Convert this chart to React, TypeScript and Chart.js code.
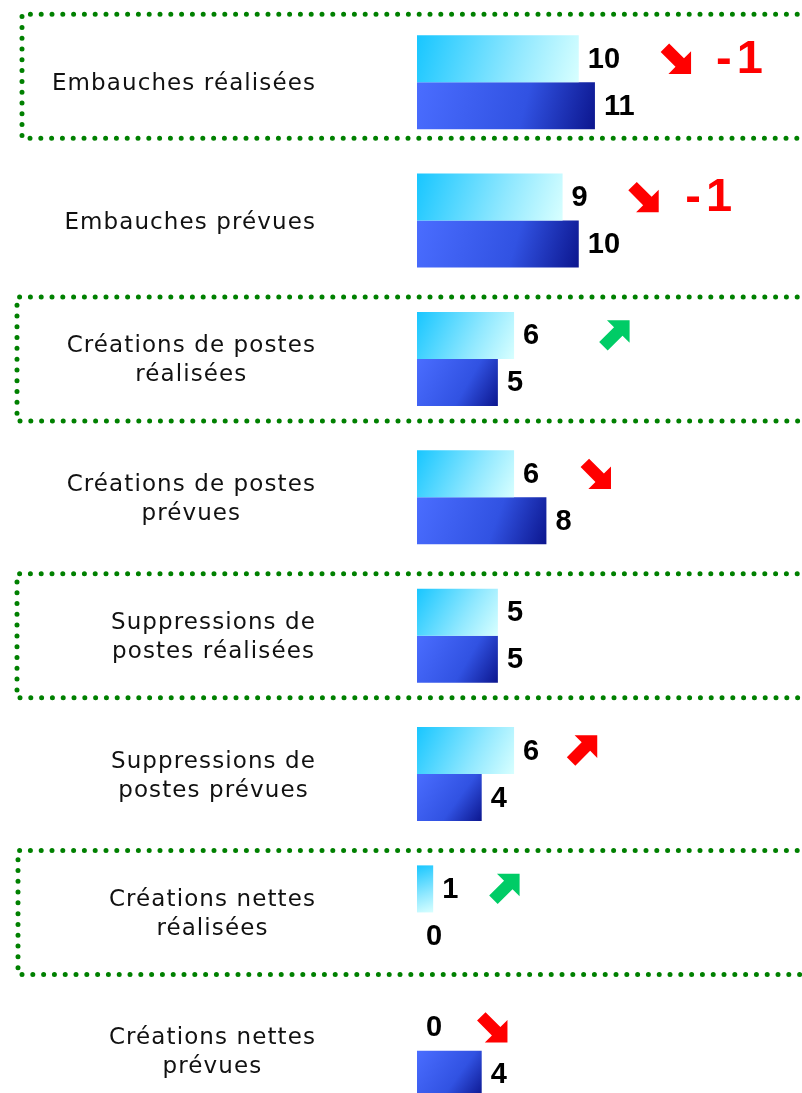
import React, { useEffect, useRef } from 'react';
import { Chart, registerables } from 'chart.js';

Chart.register(...registerables);

// ---- data ----
const CATEGORIES: string[][] = [
  ['Embauches réalisées'],
  ['Embauches prévues'],
  ['Créations de postes', 'réalisées'],
  ['Créations de postes', 'prévues'],
  ['Suppressions de', 'postes réalisées'],
  ['Suppressions de', 'postes prévues'],
  ['Créations nettes', 'réalisées'],
  ['Créations nettes', 'prévues'],
];
const SERIES_LIGHT = [10, 9, 6, 6, 5, 6, 1, 0];
const SERIES_DARK = [11, 10, 5, 8, 5, 4, 0, 4];

// trend annotations (direction, favourable?, position in value units)
const TREND_DIR: (string | null)[] = ['down', 'down', 'up', 'down', null, 'up', 'up', 'down'];
const TREND_GOOD: (boolean | null)[] = [false, false, true, false, null, false, true, false];
const TREND_AT: (number | null)[] = [16.0, 14.0, 12.2, 11.05, null, 10.2, 5.4, 4.65];
const DELTA_TEXT: (string | null)[] = ['-1', '-1', null, null, null, null, null, null];
const DELTA_AT: (number | null)[] = [19.9, 18.0, null, null, null, null, null, null];

const BOXED_CATEGORIES = [0, 2, 4, 6];

const X_MAX = 23.8;
const CAT_PCT = 0.68;

const LIGHT_STOPS = ['#18c6ff', '#90e8ff', '#d8ffff'];
const DARK_STOPS = ['#4a6dff', '#3152e2', '#0c168e'];

function barGradient(ctx: any, stops: string[]) {
  const chart = ctx.chart;
  const xs = chart.scales?.x;
  const ys = chart.scales?.y;
  if (ctx.type !== 'data' || !xs || !ys || !ys.height) return stops[1];
  const v = Number(ctx.raw) || 0;
  const left = xs.getPixelForValue(0);
  const right = Math.max(xs.getPixelForValue(v), left + 1);
  const center = ys.getPixelForValue(ctx.dataIndex);
  const half = (ys.height / CATEGORIES.length) * CAT_PCT / 2;
  const top = ctx.datasetIndex === 0 ? center - half : center;
  if (![left, right, top, half].every((n) => Number.isFinite(n))) return stops[1];
  const g = chart.ctx.createLinearGradient(left, top, right, top + half);
  g.addColorStop(0, stops[0]);
  g.addColorStop(0.6, stops[1]);
  g.addColorStop(1, stops[2]);
  return g;
}

function drawArrow(c: CanvasRenderingContext2D, cx: number, cy: number, up: boolean, color: string) {
  // block arrow pointing +x, then rotated 45 degrees
  const pts = [
    [-17, -6], [4, -6], [4, -16], [20, 0], [4, 16], [4, 6], [-17, 6],
  ];
  const off = 1.1;
  c.save();
  c.translate(cx + off, up ? cy - off : cy + off);
  c.rotate(up ? -Math.PI / 4 : Math.PI / 4);
  c.beginPath();
  pts.forEach(([x, y], i) => (i ? c.lineTo(x, y) : c.moveTo(x, y)));
  c.closePath();
  c.fillStyle = color;
  c.fill();
  c.restore();
}

const boxesPlugin = {
  id: 'boxes',
  beforeDatasetsDraw(chart: any) {
    const c = chart.ctx as CanvasRenderingContext2D;
    const ys = chart.scales.y;
    const band = ys.height / CATEGORIES.length;
    const lefts = [22, 17, 17, 18];
    const nudges = [-6, 0, 0, 0];
    c.save();
    c.strokeStyle = '#008000';
    c.lineWidth = 5;
    c.lineCap = 'round';
    c.setLineDash([0, 10.8]);
    BOXED_CATEGORIES.forEach((ci, k) => {
      const center = ys.getPixelForValue(ci) + nudges[k];
      const top = center - band * 0.448;
      const bottom = center + band * 0.448;
      const left = lefts[k];
      c.beginPath();
      c.moveTo(chart.width + 6, top);
      c.lineTo(left, top);
      c.lineTo(left, bottom);
      c.lineTo(chart.width + 6, bottom);
      c.stroke();
    });
    c.restore();
  },
};

const labelsPlugin = {
  id: 'catLabels',
  afterDraw(chart: any) {
    const c = chart.ctx as any;
    const ys = chart.scales.y;
    const right = chart.chartArea.left - 101;
    c.save();
    c.font = '23px "DejaVu Sans", Verdana, sans-serif';
    c.letterSpacing = '1.1px';
    c.fillStyle = '#111';
    c.textAlign = 'center';
    c.textBaseline = 'middle';
    const lh = 29;
    CATEGORIES.forEach((lines, i) => {
      const center = ys.getPixelForValue(i) + 2;
      const w = Math.max(...lines.map((l) => c.measureText(l).width));
      const x = right - w / 2;
      lines.forEach((line, j) => {
        const y = center + (j - (lines.length - 1) / 2) * lh;
        c.fillText(line, x, y);
      });
    });
    c.restore();
  },
};

const valuesPlugin = {
  id: 'values',
  afterDatasetsDraw(chart: any) {
    const c = chart.ctx as any;
    const xs = chart.scales.x;
    c.save();
    c.letterSpacing = '0px';
    c.font = 'bold 29px "Liberation Sans", Arial, sans-serif';
    c.fillStyle = '#000';
    c.textAlign = 'left';
    c.textBaseline = 'middle';
    chart.data.datasets.forEach((ds: any, di: number) => {
      const meta = chart.getDatasetMeta(di);
      meta.data.forEach((el: any, i: number) => {
        c.fillText(String(ds.data[i]), el.x + 9, el.y + 1);
      });
    });
    const light = chart.getDatasetMeta(0);
    CATEGORIES.forEach((_, i) => {
      const y = light.data[i].y;
      const dir = TREND_DIR[i];
      const at = TREND_AT[i];
      if (dir && at != null) {
        const color = TREND_GOOD[i] ? '#00cc66' : '#ff0000';
        drawArrow(c, xs.getPixelForValue(at), y, dir === 'up', color);
      }
      const dt = DELTA_TEXT[i];
      const da = DELTA_AT[i];
      if (dt && da != null) {
        c.save();
        c.font = 'bold 47px "Liberation Sans", Arial, sans-serif';
        c.letterSpacing = '5px';
        c.fillStyle = '#ff0000';
        c.textAlign = 'center';
        c.textBaseline = 'middle';
        c.fillText(dt, xs.getPixelForValue(da) + 3, y + 1);
        c.restore();
      }
    });
    c.restore();
  },
};

export default function App() {
  const ref = useRef<HTMLCanvasElement | null>(null);
  useEffect(() => {
    if (!ref.current) return;
    const chart = new Chart(ref.current, {
      type: 'bar',
      data: {
        labels: CATEGORIES,
        datasets: [
          {
            label: 'Série 1',
            data: SERIES_LIGHT,
            backgroundColor: (ctx: any) => barGradient(ctx, LIGHT_STOPS),
            borderWidth: 0,
            categoryPercentage: CAT_PCT,
            barPercentage: 1,
          },
          {
            label: 'Série 2',
            data: SERIES_DARK,
            backgroundColor: (ctx: any) => barGradient(ctx, DARK_STOPS),
            borderWidth: 0,
            categoryPercentage: CAT_PCT,
            barPercentage: 1,
          },
        ],
      },
      options: {
        indexAxis: 'y',
        animation: false,
        responsive: true,
        maintainAspectRatio: false,
        events: [],
        layout: { padding: { top: 13, right: 0, bottom: 0, left: 0 } },
        plugins: {
          legend: { display: false },
          tooltip: { enabled: false },
        },
        scales: {
          x: {
            display: false,
            min: 0,
            max: X_MAX,
          },
          y: {
            grid: { display: false, drawTicks: false },
            border: { display: false },
            ticks: { display: false },
            afterFit(scale: any) {
              scale.width = 417;
            },
          },
        },
      },
      plugins: [boxesPlugin, labelsPlugin, valuesPlugin],
    });
    return () => chart.destroy();
  }, []);

  return (
    <div
      style={{
        position: 'fixed',
        left: 0,
        top: 0,
        width: 802,
        height: 1093,
        overflow: 'hidden',
        background: '#fff',
      }}
    >
      <div style={{ position: 'relative', width: 802, height: 1120 }}>
        <canvas ref={ref} />
      </div>
    </div>
  );
}
